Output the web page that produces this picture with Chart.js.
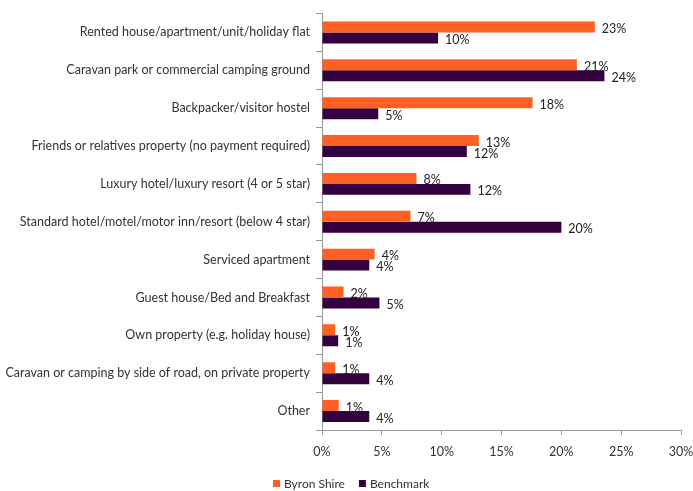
<!DOCTYPE html>
<html><head><meta charset="utf-8">
<script src="https://cdn.jsdelivr.net/npm/chart.js@4/dist/chart.umd.min.js"></script>
<style>html,body{margin:0;padding:0;background:#fff}#wrap{width:693px;height:491px}</style>
</head><body><div id="wrap"><canvas id="c"></canvas></div>
<script>
const categories = [
  "Rented house/apartment/unit/holiday flat",
  "Caravan park or commercial camping ground",
  "Backpacker/visitor hostel",
  "Friends or relatives property (no payment required)",
  "Luxury hotel/luxury resort (4 or 5 star)",
  "Standard hotel/motel/motor inn/resort (below 4 star)",
  "Serviced apartment",
  "Guest house/Bed and Breakfast",
  "Own property (e.g. holiday house)",
  "Caravan or camping by side of road, on private property",
  "Other"
];
const byronShire = [22.8, 21.3, 17.6, 13.1, 7.9, 7.4, 4.4, 1.8, 1.1, 1.1, 1.4];
const benchmark  = [9.7, 23.6, 4.7, 12.1, 12.4, 20.0, 3.95, 4.8, 1.35, 3.95, 3.95];
const xTicks = [0, 5, 10, 15, 20, 25, 30];

const FONT = "Lato, 'Open Sans', sans-serif";
const labelPlugin = {
  id: 'valLabels',
  afterDatasetsDraw(chart) {
    const ctx = chart.ctx;
    ctx.save();
    ctx.font = "12.5px " + FONT;
    ctx.fillStyle = "#222";
    ctx.textAlign = "left";
    ctx.textBaseline = "middle";
    chart.data.datasets.forEach((ds, di) => {
      const meta = chart.getDatasetMeta(di);
      meta.data.forEach((bar, i) => {
        ctx.fillText(Math.round(ds.data[i]) + "%", bar.x + 7, bar.y + 2);
      });
    });
    // legend
    ctx.font = "12px " + FONT;
    let x = 273;
    const y = 484;
    chart.data.datasets.forEach((ds) => {
      ctx.fillStyle = ds.backgroundColor;
      ctx.fillRect(x, y - 4, 7, 7);
      ctx.fillStyle = "#333";
      ctx.fillText(ds.label, x + 11, y);
      x += 11 + ctx.measureText(ds.label).width + 14;
    });
    ctx.restore();
  }
};

new Chart(document.getElementById('c'), {
  type: 'bar',
  data: {
    labels: categories,
    datasets: [
      { label: 'Byron Shire', data: byronShire, backgroundColor: '#FF5F22', barPercentage: 1, categoryPercentage: 0.58 },
      { label: 'Benchmark', data: benchmark, backgroundColor: '#35003F', barPercentage: 1, categoryPercentage: 0.58 }
    ]
  },
  options: {
    indexAxis: 'y',
    responsive: true,
    maintainAspectRatio: false,
    animation: false,
    layout: { padding: { top: 6, right: 12, bottom: 31, left: 0 } },
    plugins: {
      legend: { display: false },
      tooltip: { enabled: false }
    },
    scales: {
      y: {
        grid: { drawOnChartArea: false, drawTicks: true, tickLength: 6, color: '#999', offset: true },
        border: { color: '#999' },
        ticks: { font: { family: FONT, size: 12.5 }, color: '#333', padding: 6 },
        afterFit(s) { s.width = 322; }
      },
      x: {
        min: 0, max: 30,
        afterBuildTicks(s) { s.ticks = xTicks.map(v => ({ value: v })); },
        grid: { drawOnChartArea: false, drawTicks: true, tickLength: 5, color: '#999' },
        border: { color: '#999' },
        ticks: { font: { family: FONT, size: 12.5 }, color: '#333', padding: 9, callback: v => v + '%' },
        afterFit(s) { s.height = 30; s.paddingLeft = 0; s.paddingRight = 0; }
      }
    }
  },
  plugins: [labelPlugin]
});
</script></body></html>
